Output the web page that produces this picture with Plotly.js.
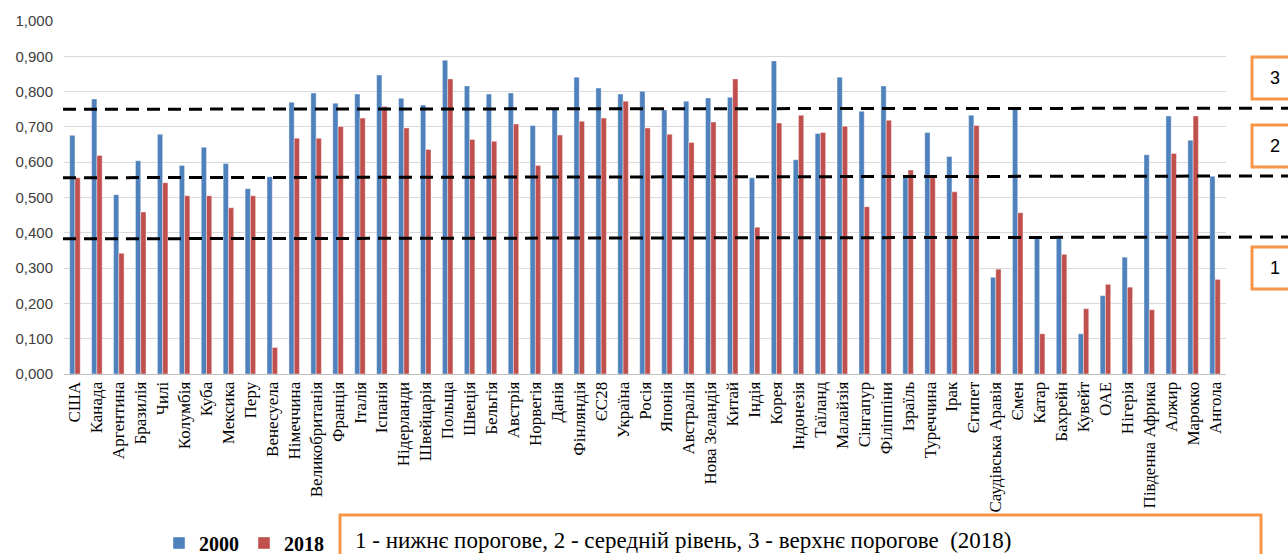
<!DOCTYPE html>
<html>
<head>
<meta charset="utf-8">
<script src="https://cdn.plot.ly/plotly-3.0.1.min.js"></script>
<style>html,body{margin:0;padding:0;background:#fff;}#chart{width:1288px;height:554px;}</style>
</head>
<body>
<div id="chart"></div>
<script>
const countries = ["США","Канада","Аргентина","Бразилія","Чилі","Колумбія","Куба","Мексика","Перу","Венесуела",
"Німеччина","Великобританія","Франція","Італія","Іспанія","Нідерланди","Швейцарія","Польща","Швеція","Бельгія",
"Австрія","Норвегія","Данія","Фінляндія","ЄС28","Україна","Росія","Японія","Австралія","Нова Зеландія",
"Китай","Індія","Корея","Індонезія","Таїланд","Малайзія","Сінгапур","Філіппіни","Ізраїль","Туреччина",
"Ірак","Єгипет","Саудівська Аравія","Ємен","Катар","Бахрейн","Кувейт","ОАЕ","Нігерія","Південна Африка",
"Алжир","Марокко","Ангола"];
const values2000 = [0.676,0.779,0.508,0.604,0.679,0.591,0.642,0.596,0.525,0.559,
0.770,0.796,0.767,0.793,0.847,0.781,0.762,0.889,0.816,0.793,
0.796,0.704,0.750,0.841,0.810,0.793,0.801,0.748,0.773,0.782,
0.784,0.556,0.887,0.607,0.681,0.841,0.744,0.816,0.556,0.684,
0.616,0.733,0.274,0.752,0.384,0.384,0.114,0.222,0.331,0.621,
0.731,0.662,0.560];
const values2018 = [0.556,0.619,0.342,0.459,0.542,0.505,0.505,0.471,0.505,0.075,
0.668,0.668,0.701,0.725,0.758,0.697,0.636,0.836,0.664,0.659,
0.708,0.591,0.677,0.716,0.725,0.773,0.697,0.679,0.656,0.714,
0.836,0.416,0.711,0.733,0.684,0.702,0.474,0.719,0.578,0.556,
0.516,0.704,0.297,0.457,0.114,0.339,0.185,0.254,0.246,0.182,
0.625,0.731,0.268];
const seriesNames = ["2000","2018"];
const thresholdLeft = [0.383,0.556,0.750];
const thresholdRight = [0.388,0.561,0.753];
const levelLabels = ["1","2","3"];
const noteText = "1 - нижнє порогове, 2 - середній рівень, 3 - верхнє порогове  (2018)";

const L = 64, R = 62, T = 21, B = 180, W = 1288, H = 554;
const pw = W - L - R, ph = H - T - B;
const px = x => (x - L) / pw;
const py = y => (H - B - y) / ph;

const serif = '"Liberation Serif", "Times New Roman", serif';
const sans = '"Liberation Sans", Arial, sans-serif';

const traces = [
  {type:'bar', name:seriesNames[0], x:countries, y:values2000, marker:{color:'#4f81bd', line:{color:'#ffffff', width:0.4}}},
  {type:'bar', name:seriesNames[1], x:countries, y:values2018, marker:{color:'#c0504d', line:{color:'#ffffff', width:0.4}}}
];

const orange = '#f79646';
const shapes = [];
const annotations = [];
thresholdLeft.forEach((v,i)=>{
  shapes.push({type:'line', xref:'paper', yref:'y', x0:px(63), x1:px(1292), y0:v, y1:thresholdRight[i],
    line:{color:'#000', width:3, dash:'13px,8px'}});
});
const boxTops = [247, 125, 57];
boxTops.forEach((t,i)=>{
  shapes.push({type:'rect', xref:'paper', yref:'paper', x0:px(1252), x1:px(1300), y0:py(t+42), y1:py(t),
    line:{color:orange, width:3}, fillcolor:'rgba(0,0,0,0)'});
  annotations.push({xref:'paper', yref:'paper', x:px(1275), y:py(t+21), text:levelLabels[i], showarrow:false,
    xanchor:'center', yanchor:'middle', font:{family:sans, size:18, color:'#000'}});
});
shapes.push({type:'rect', xref:'paper', yref:'paper', x0:px(340), x1:px(1261), y0:py(560), y1:py(515),
  line:{color:orange, width:3}, fillcolor:'rgba(0,0,0,0)'});
annotations.push({xref:'paper', yref:'paper', x:px(353), y:py(540), text:noteText, showarrow:false,
  xanchor:'left', yanchor:'middle', font:{family:serif, size:23, color:'#000'}});

const layout = {
  width:W, height:H,
  margin:{l:L, r:R, t:T, b:B, pad:0},
  paper_bgcolor:'#fff', plot_bgcolor:'#fff',
  separators:', ',
  barmode:'group', bargap:0.52, bargroupgap:0,
  showlegend:true,
  legend:{orientation:'h', xref:'container', yref:'container', x:159/W, y:(H-543)/H, xanchor:'left', yanchor:'middle',
    font:{family:serif, size:20, color:'#000', weight:'bold'},
    itemwidth:30, traceorder:'normal', bgcolor:'rgba(0,0,0,0)'},
  xaxis:{type:'category', tickangle:-90, tickfont:{family:serif, size:17, color:'#000'},
    showgrid:false, showline:true, linecolor:'#bfbfbf', linewidth:1, ticks:'', automargin:false},
  yaxis:{range:[0,1], dtick:0.1, tickformat:'.3f', showgrid:true, gridcolor:'#d9d9d9', gridwidth:1,
    zeroline:false, showline:false, ticks:'', ticklabelstandoff:10,
    tickfont:{family:sans, size:15, color:'#404040'}, automargin:false},
  shapes:shapes, annotations:annotations
};
Plotly.newPlot('chart', traces, layout, {displayModeBar:false, staticPlot:true});
</script>
</body>
</html>
